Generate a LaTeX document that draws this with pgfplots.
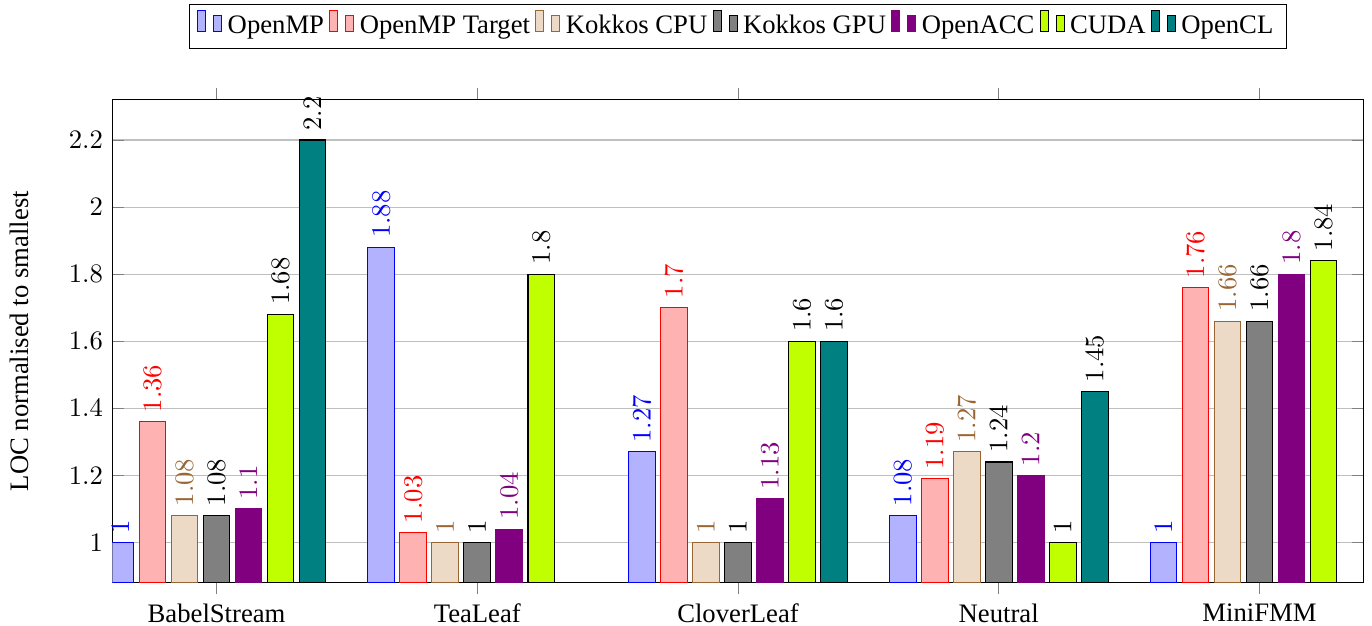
\documentclass[border=0pt]{standalone}
\usepackage{pgfplots}
\pgfplotsset{compat=1.18}
\usepackage{fontspec}
\setmainfont{Liberation Serif}

% LOC per model, groups at x = 0..4
% 0 BabelStream, 1 TeaLeaf, 2 CloverLeaf, 3 Neutral, 4 MiniFMM
\begin{document}
\begin{tikzpicture}
\begin{axis}[
    name=ax,
    scale only axis,
    width=469.2pt, height=181.1pt,
    ybar=2pt, bar width=10pt,
    xmin=-0.4, xmax=4.4,
    ymin=0.88, ymax=2.32,
    xtick={0,1,2,3,4},
    xticklabels={BabelStream,TeaLeaf,CloverLeaf,Neutral,MiniFMM},
    xtick align=outside,
    ytick={1,1.2,1.4,1.6,1.8,2,2.2},
    ymajorgrids,
    ylabel={LOC normalised to smallest},
    ylabel shift=8pt,
    nodes near coords,
    every node near coord/.append style={rotate=90, anchor=west},
    legend columns=-1,
    legend style={at={(0.5,1.105)}, anchor=south, draw=black},
]
\addplot[draw=blue, fill=blue!30, every node near coord/.append style={text=blue}]
  coordinates {(0,1) (1,1.88) (2,1.27) (3,1.08) (4,1)};
\addlegendentry{OpenMP}
\addplot[draw=red, fill=red!30, every node near coord/.append style={text=red}]
  coordinates {(0,1.36) (1,1.03) (2,1.7) (3,1.19) (4,1.76)};
\addlegendentry{OpenMP Target}
\addplot[draw=brown!80!black, fill=brown!30, every node near coord/.append style={text=brown!80!black}]
  coordinates {(0,1.08) (1,1) (2,1) (3,1.27) (4,1.66)};
\addlegendentry{Kokkos CPU}
\addplot[draw=black, fill=gray, every node near coord/.append style={text=black}]
  coordinates {(0,1.08) (1,1) (2,1) (3,1.24) (4,1.66)};
\addlegendentry{Kokkos GPU}
\addplot[draw=violet, fill=violet, every node near coord/.append style={text=violet}]
  coordinates {(0,1.1) (1,1.04) (2,1.13) (3,1.2) (4,1.8)};
\addlegendentry{OpenACC}
\addplot[draw=black, fill=lime, every node near coord/.append style={text=black}]
  coordinates {(0,1.68) (1,1.8) (2,1.6) (3,1) (4,1.84)};
\addlegendentry{CUDA}
\addplot[draw=black, fill=teal, every node near coord/.append style={text=black}]
  coordinates {(0,2.2) (2,1.6) (3,1.45)};
\addlegendentry{OpenCL}
\end{axis}
\pgfresetboundingbox
\path ([shift={(-42.1pt,-16.2pt)}]ax.south west) rectangle ([shift={(3.1pt,37.4pt)}]ax.north east);
\end{tikzpicture}
\end{document}
